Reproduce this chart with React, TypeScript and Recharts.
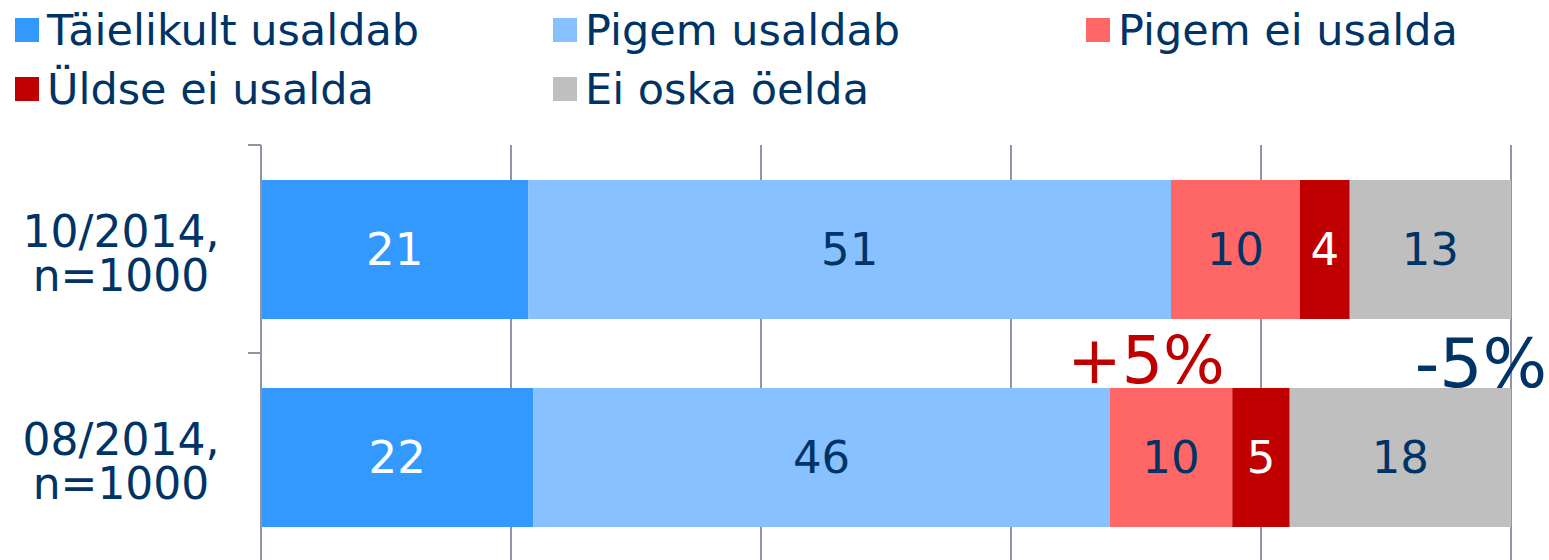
import React from 'react';
import { BarChart, Bar, XAxis, YAxis, CartesianGrid, LabelList, ReferenceDot } from 'recharts';

const categories = ['10/2014, n=1000', '08/2014, n=1000'];
const categoryLines = [
  ['10/2014,', 'n=1000'],
  ['08/2014,', 'n=1000'],
];
const seriesNames = ['Täielikult usaldab', 'Pigem usaldab', 'Pigem ei usalda', 'Üldse ei usalda', 'Ei oska öelda'];
const seriesColors = ['#3399FF', '#87C1FF', '#FF6666', '#C00000', '#BFBFBF'];
const labelColors = ['#FFFFFF', '#003366', '#003366', '#FFFFFF', '#003366'];
const taielikultUsaldab = [21.4, 21.8];
const pigemUsaldab = [51.4, 46.1];
const pigemEiUsalda = [10.3, 9.8];
const uldseEiUsalda = [4.0, 4.6];
const eiOskaOelda = [12.9, 17.7];
const xTicks = [0, 20, 40, 60, 80, 100];
const annotationTexts = ['+5%', '-5%'];
const annotationColors = ['#C00000', '#003366'];
const annotationX = [70.8, 97.6];

const seriesValues = [taielikultUsaldab, pigemUsaldab, pigemEiUsalda, uldseEiUsalda, eiOskaOelda];
const seriesKeys = ['s0', 's1', 's2', 's3', 's4'];

const data = categories.map((c, i) => {
  const row: any = { cat: c };
  seriesKeys.forEach((k, j) => {
    row[k] = seriesValues[j][i];
  });
  return row;
});

const FONT = '"DejaVu Sans", Verdana, sans-serif';
const NAVY = '#003366';
const AXIS = '#9094A4';

const CategoryTick = (props: any) => {
  const { x, y, payload } = props;
  const half = payload && typeof payload.offset === 'number' && payload.offset > 0 ? payload.offset : 104;
  const idx = categories.indexOf(payload.value);
  const lines = idx >= 0 ? categoryLines[idx] : [String(payload.value)];
  const tx = x - 140;
  return (
    <g>
      <line x1={x - 13} x2={x} y1={y - half} y2={y - half} stroke={AXIS} strokeWidth={2} />
      <line x1={x - 13} x2={x} y1={y + half} y2={y + half} stroke={AXIS} strokeWidth={2} />
      <text x={tx} y={y - 2} textAnchor="middle" fill={NAVY} fontSize={44} fontFamily={FONT}>
        {lines[0]}
      </text>
      {lines[1] ? (
        <text x={tx} y={y + 42} textAnchor="middle" fill={NAVY} fontSize={44} fontFamily={FONT}>
          {lines[1]}
        </text>
      ) : null}
    </g>
  );
};

const EmptyTick = () => <g />;

const annotationDy = [-74, -70];
const annotationSize = [65, 68];

const makeAnnotationShape = (i: number) => (p: any) => (
  <text
    x={p.cx}
    y={p.cy + annotationDy[i]}
    textAnchor="middle"
    fill={annotationColors[i]}
    fontSize={annotationSize[i]}
    fontFamily={FONT}
  >
    {annotationTexts[i]}
  </text>
);

export default function App() {
  return (
    <div style={{ position: 'absolute', left: 0, top: 0, width: 1549, height: 560, overflow: 'hidden', background: '#FFFFFF' }}>
      <div
        style={{
          position: 'absolute',
          left: 15,
          top: 0,
          display: 'grid',
          gridTemplateColumns: '538px 533px 440px',
          gridAutoRows: '59px',
          fontFamily: FONT,
          color: NAVY,
          fontSize: 43,
          zIndex: 2,
        }}
      >
        {seriesNames.map((n, i) => (
          <div key={n} style={{ display: 'flex', alignItems: 'center', height: 59, whiteSpace: 'nowrap' }}>
            <span style={{ display: 'inline-block', width: 24, height: 24, background: seriesColors[i], marginRight: 8 }} />
            <span>{n}</span>
          </div>
        ))}
      </div>
      <BarChart
        width={1549}
        height={562}
        data={data}
        layout="vertical"
        margin={{ top: 145, right: 38, bottom: 1, left: 0 }}
      >
        <CartesianGrid horizontal={false} vertical={true} stroke={AXIS} strokeWidth={2} />
        <XAxis
          type="number"
          domain={[0, 100]}
          ticks={xTicks}
          interval={0}
          height={0}
          tick={<EmptyTick />}
          axisLine={false}
          tickLine={false}
        />
        <YAxis
          type="category"
          dataKey="cat"
          width={261}
          tickSize={0}
          tickMargin={0}
          tickLine={false}
          axisLine={{ stroke: AXIS, strokeWidth: 2 }}
          tick={<CategoryTick />}
          interval={0}
        />
        {seriesKeys.map((k, i) => (
          <Bar key={k} dataKey={k} name={seriesNames[i]} stackId="a" fill={seriesColors[i]} barSize={139} isAnimationActive={false}>
            <LabelList
              dataKey={k}
              position="center"
              fill={labelColors[i]}
              fontSize={45}
              fontFamily={FONT}
              formatter={(v: any) => Math.round(Number(v))}
            />
          </Bar>
        ))}
        {annotationTexts.map((t, i) => (
          <ReferenceDot
            key={t}
            x={annotationX[i]}
            y={categories[1]}
            r={0}
            ifOverflow="visible"
            shape={makeAnnotationShape(i)}
          />
        ))}
      </BarChart>
    </div>
  );
}
